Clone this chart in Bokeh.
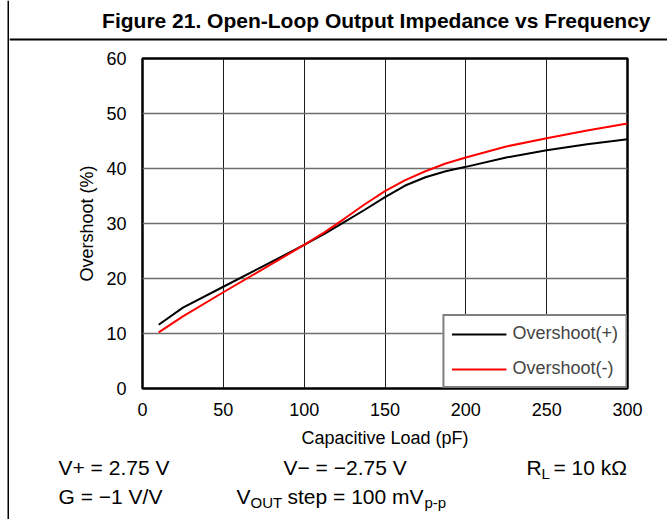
from bokeh.plotting import figure
from bokeh.models import Range1d, Label, Legend, LegendItem
from bokeh.layouts import row, column
from bokeh.embed import file_html
from bokeh.resources import INLINE

# Data
cap_load = [10, 25, 50, 75, 100, 112.5, 125, 137.5, 150, 162.5, 175, 187.5, 200, 225, 250, 275, 300]
overshoot_pos = [11.6, 14.7, 18.5, 22.3, 26.1, 28.1, 30.3, 32.5, 34.8, 36.9, 38.4, 39.5, 40.3, 42.0, 43.3, 44.4, 45.3]
overshoot_neg = [10.2, 13.1, 17.5, 21.8, 26.1, 28.4, 30.9, 33.5, 35.9, 37.9, 39.5, 40.9, 42.0, 44.0, 45.5, 46.9, 48.2]
series_names = ["Overshoot(+)", "Overshoot(-)"]
x_ticks = [0, 50, 100, 150, 200, 250, 300]
y_ticks = [0, 10, 20, 30, 40, 50, 60]
title_text = "Figure 21. Open-Loop Output Impedance vs Frequency"

FONT = "Liberation Sans"
W, H = 667, 519
SW = 9                      # left strip holding the page rule
RW = W - SW                 # width of the right column
TOP_H, CHART_H = 45, 411
BOT_H = H - TOP_H - CHART_H


def no_align(f):
    try:
        f.frame_align = False
    except Exception:
        pass


def blank(width, height):
    f = figure(width=width, height=height, output_backend="svg", toolbar_location=None,
               x_range=Range1d(0, width), y_range=Range1d(height, 0),
               x_axis_type=None, y_axis_type=None, min_border=0)
    f.outline_line_color = None
    f.background_fill_color = "white"
    f.border_fill_color = "white"
    f.xgrid.visible = False
    f.ygrid.visible = False
    no_align(f)
    return f


def put(f, x, y, text, size="21px", style="normal", align="left"):
    f.add_layout(Label(x=x, y=y, text=text, text_font=FONT, text_font_size=size,
                       text_font_style=style, text_align=align, text_baseline="middle",
                       text_color="black"))


# left page rule
strip = blank(SW, H)
strip.quad(left=[7], right=[9], top=[0], bottom=[H], fill_color="black", line_color=None)

# title band
top = blank(RW, TOP_H)
put(top, 650 - SW, 20, title_text, size="21px", style="bold", align="right")
top.quad(left=[0], right=[RW], top=[38], bottom=[40], fill_color="black", line_color=None)

# chart
FL, FT, FW, FH = 142 - SW, 13, 485, 330
p = figure(width=RW, height=CHART_H, output_backend="svg", toolbar_location=None,
           x_range=Range1d(0, 300), y_range=Range1d(0, 60),
           min_border_left=FL, min_border_right=RW - FL - FW, min_border_top=FT,
           min_border_bottom=CHART_H - FT - FH)
no_align(p)
p.background_fill_color = "white"
p.border_fill_color = "white"
p.outline_line_color = "black"
p.outline_line_width = 2.5

for ax in (p.xaxis[0], p.yaxis[0]):
    ax.axis_line_color = None
    ax.major_tick_line_color = None
    ax.minor_tick_line_color = None
    ax.major_tick_out = 0
    ax.major_tick_in = 0
    ax.minor_tick_out = 0
    ax.major_label_text_font = FONT
    ax.major_label_text_font_size = "18px"
    ax.major_label_text_color = "black"
    ax.axis_label_text_font = FONT
    ax.axis_label_text_font_size = "18px"
    ax.axis_label_text_font_style = "normal"
    ax.axis_label_text_color = "black"

p.xaxis.ticker = x_ticks
p.yaxis.ticker = y_ticks
p.xaxis.axis_label = "Capacitive Load (pF)"
p.yaxis.axis_label = "Overshoot (%)"
p.xaxis.major_label_standoff = 14
p.yaxis.major_label_standoff = 16
p.xaxis.axis_label_standoff = 9
p.yaxis.axis_label_standoff = 6

p.xgrid.grid_line_color = "#1a1a1a"
p.xgrid.grid_line_width = 1
p.ygrid.grid_line_color = "#6e6e6e"
p.ygrid.grid_line_width = 1.5

r1 = p.line(cap_load, overshoot_pos, line_color="black", line_width=2)
r2 = p.line(cap_load, overshoot_neg, line_color="#ff0000", line_width=2)

legend = Legend(items=[LegendItem(label=series_names[0], renderers=[r1]),
                       LegendItem(label=series_names[1], renderers=[r2])],
                location="bottom_right", margin=0, padding=7, spacing=14,
                glyph_width=55, glyph_height=20, label_height=20, label_standoff=6,
                label_text_font=FONT, label_text_font_size="18px",
                border_line_color="black", border_line_width=2,
                background_fill_alpha=1)
p.add_layout(legend, "center")

# test conditions band
bot = blank(RW, BOT_H)
y0 = TOP_H + CHART_H
r1y, r2y = 467 - y0, 496 - y0
put(bot, 58 - SW, r1y, "V+ = 2.75 V")
put(bot, 283 - SW, r1y, "V\u2212 = \u22122.75 V")
put(bot, 526 - SW, r1y, "R")
put(bot, 541 - SW, r1y + 6, "L", size="15px")
put(bot, 553 - SW, r1y, "= 10 k\u03a9")
put(bot, 58 - SW, r2y, "G = \u22121 V/V")
put(bot, 236 - SW, r2y, "V")
put(bot, 250 - SW, r2y + 6, "OUT", size="15px")
put(bot, 287 - SW, r2y, "step = 100 mV")
put(bot, 424 - SW, r2y + 6, "p-p", size="15px")

layout = row(strip, column(top, p, bot, spacing=0), spacing=0)
open("out.html", "w").write(file_html(layout, INLINE))
